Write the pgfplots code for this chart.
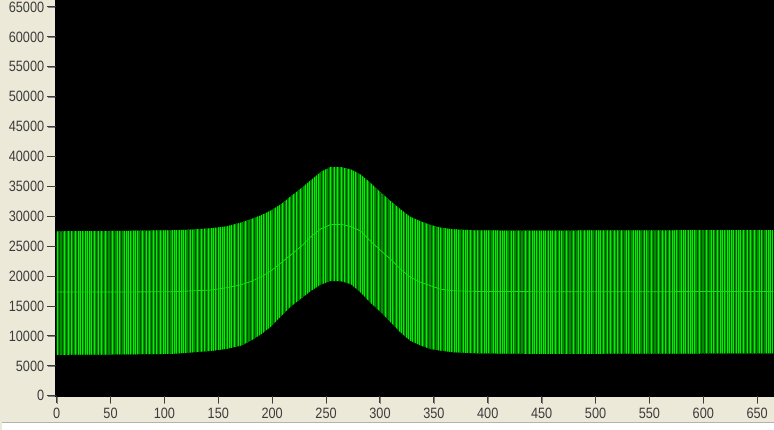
\documentclass[border=0pt]{standalone}
\usepackage{fontspec}
\setmainfont{Liberation Sans}[FakeStretch=0.85]
\usepackage{pgfplots}
\pgfplotsset{compat=1.18}
\usepgfplotslibrary{fillbetween}
\usetikzlibrary{patterns.meta}
\definecolor{winbg}{RGB}{236,233,216}
\definecolor{ticklab}{RGB}{60,60,60}
\definecolor{tickcol}{RGB}{60,60,60}
\definecolor{gmid}{RGB}{0,145,0}
\definecolor{gbright}{RGB}{0,240,0}
\definecolor{gdark}{RGB}{0,75,0}
\definecolor{gline}{RGB}{20,225,20}

\pgfplotstableread{
x y
0 27500
50 27550
106 27670
125 27780
143 28000
157 28300
171 28950
180 29500
190 30200
199 31000
208 32000
217 33300
227 34700
236 36050
245 37400
254 38250
264 38220
273 37830
282 37000
291 35610
301 33940
310 32550
319 31170
328 29950
338 29150
347 28560
356 28110
368 27830
390 27650
450 27600
500 27650
550 27650
600 27700
665 27700
}\uppertab

\pgfplotstableread{
x y
0 6850
50 6900
106 7000
125 7250
143 7500
157 7830
171 8390
180 9220
190 10330
199 11600
208 13300
217 14900
227 16300
236 17550
245 18600
254 19200
264 19150
273 18670
282 17280
291 15610
301 13940
310 12280
319 10610
328 9220
338 8390
347 7830
356 7560
368 7280
390 7100
450 7000
550 7050
665 7100
}\lowertab

\pgfplotstableread{
x y
0 17350
50 17350
106 17390
143 17670
157 18050
171 18550
180 19100
190 19900
199 20900
208 22200
217 23500
227 25000
236 26600
245 27900
254 28600
264 28670
273 28280
282 27560
291 25890
301 24220
310 22830
319 21170
328 19850
338 18950
347 18390
356 17830
368 17550
390 17450
450 17400
550 17400
665 17450
}\midtab

\begin{document}
\pagecolor{winbg}
\begin{tikzpicture}[x=1pt,y=1pt]
\begin{axis}[
  at={(53.5pt,34pt)}, anchor=south west,
  scale only axis, width=720.5pt, height=397pt,
  xmin=-0.9, xmax=665.6, ymin=0, ymax=66167,
  axis background/.style={fill=black},
  axis line style={draw=black},
  xtick={0,50,...,650}, ytick={0,5000,...,65000},
  tick align=outside, major tick length=8pt,
  tick pos=left,
  scaled y ticks=false,
  /pgf/number format/1000 sep={},
  /pgf/number format/assume math mode=true,
  every tick label/.append style={font=\fontsize{15}{18}\selectfont, text=ticklab},
  xticklabel style={yshift=-1pt},
]
\addplot[name path=up, draw=none] table {\uppertab};
\addplot[name path=lo, draw=none] table {\lowertab};
\addplot[gmid] fill between[of=up and lo];
\addplot[pattern={Lines[angle=90,distance=2.3pt,line width=0.6pt]}, pattern color=gbright] fill between[of=up and lo];
\addplot[pattern={Lines[angle=90,distance=3.7pt,line width=0.7pt]}, pattern color=gdark] fill between[of=up and lo];
\addplot[gline, line width=0.8pt] table {\midtab};
\end{axis}
\foreach \i in {0,...,13} {
  \draw[tickcol, line width=1pt] (44.5,34+\i*30.0) -- (53.5,34+\i*30.0);
}
\foreach \i in {0,...,13} {
  \draw[tickcol, line width=1pt] (54.47+\i*54.05,34) -- (54.47+\i*54.05,27);
}
\fill[white] (0,0) rectangle (774,7);
\draw[gray!60, line width=1pt] (0,7.5) -- (774,7.5);
\pgfresetboundingbox
\path[use as bounding box] (0,0) rectangle (774,431);
\end{tikzpicture}
\end{document}
